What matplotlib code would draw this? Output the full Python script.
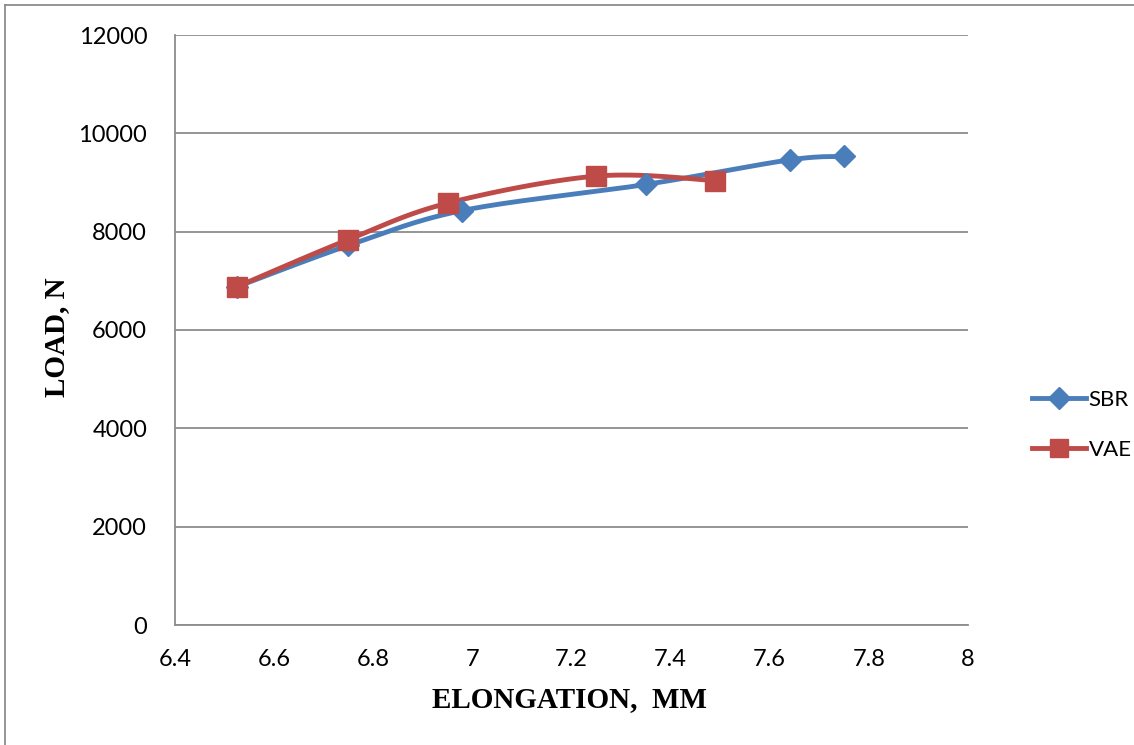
import matplotlib.pyplot as plt
import numpy as np
from matplotlib.lines import Line2D

# data
sbr_x = [6.525, 6.75, 6.98, 7.35, 7.64, 7.75]
sbr_y = [6880, 7720, 8430, 8960, 9460, 9530]
vae_x = [6.525, 6.75, 6.95, 7.25, 7.49]
vae_y = [6880, 7840, 8580, 9130, 9040]

x_ticks = [6.4, 6.6, 6.8, 7.0, 7.2, 7.4, 7.6, 7.8, 8.0]
x_tick_labels = ["6.4", "6.6", "6.8", "7", "7.2", "7.4", "7.6", "7.8", "8"]
y_ticks = [0, 2000, 4000, 6000, 8000, 10000, 12000]

BLUE = "#4A7EBB"
RED = "#BE4B48"
GRID = "#8C8C8C"


def _smooth(xs, ys, n=30):
    # Catmull-Rom curve through the points, like Excel's smoothed line
    p = np.column_stack([xs, ys]).astype(float)
    p = np.vstack([p[0], p, p[-1]])
    out = []
    t = np.linspace(0, 1, n)[:, None]
    for i in range(1, len(p) - 2):
        p0, p1, p2, p3 = p[i - 1], p[i], p[i + 1], p[i + 2]
        seg = 0.5 * ((2 * p1) + (-p0 + p2) * t
                     + (2 * p0 - 5 * p1 + 4 * p2 - p3) * t ** 2
                     + (-p0 + 3 * p1 - 3 * p2 + p3) * t ** 3)
        out.append(seg)
    out = np.vstack(out)
    return out[:, 0], out[:, 1]


def main() -> None:
    fig = plt.figure(figsize=(11.34, 7.45), dpi=100)
    ax = fig.add_axes([175 / 1134, 120 / 745, 793 / 1134, 590 / 745])

    tick_font = {"family": "Lato", "size": 17}

    for xs, ys, color, marker, ms, label in [
        (sbr_x, sbr_y, BLUE, "D", 11.5, "SBR"),
        (vae_x, vae_y, RED, "s", 14, "VAE"),
    ]:
        sx, sy = _smooth(xs, ys)
        ax.plot(sx, sy, color=color, lw=3.5, solid_capstyle="round", zorder=3)
        ax.plot(xs, ys, linestyle="none", marker=marker, markersize=ms,
                color=color, markeredgecolor=color, zorder=4)

    ax.set_xlim(6.4, 8.0)
    ax.set_ylim(0, 12000)
    ax.set_xticks(x_ticks)
    ax.set_xticklabels(x_tick_labels, fontdict=tick_font)
    ax.set_yticks(y_ticks)
    ax.set_yticklabels([str(v) for v in y_ticks], fontdict=tick_font)
    ax.tick_params(length=0)
    ax.tick_params(axis="y", pad=20)
    ax.tick_params(axis="x", pad=17)

    ax.grid(axis="y", color=GRID, lw=1.3)
    ax.set_axisbelow(True)
    for side in ["top", "right"]:
        ax.spines[side].set_visible(False)
    for side in ["left", "bottom"]:
        ax.spines[side].set_color(GRID)
        ax.spines[side].set_linewidth(1.3)

    label_font = {"family": "Liberation Serif", "weight": "bold", "size": 21}
    fig.text(570 / 1134, 1 - 700 / 745, "ELONGATION,  MM", ha="center",
             va="center", fontdict=label_font)
    fig.text(57 / 1134, 1 - 337 / 745, "LOAD, N", ha="center", va="center",
             rotation=90, fontdict=label_font)

    handles = [
        Line2D([], [], color=BLUE, lw=3.5, marker="D", markersize=11),
        Line2D([], [], color=RED, lw=3.5, marker="s", markersize=13),
    ]
    fig.legend(handles, ["SBR", "VAE"], loc="center left",
               bbox_to_anchor=(1032 / 1134, 1 - 425 / 745), frameon=False,
               prop={"family": "Lato", "size": 16}, handlelength=2.45,
               handletextpad=0.1, labelspacing=1.35, borderaxespad=0,
               borderpad=0)

    # outer chart border (top and left edges visible)
    fig.add_artist(Line2D([5 / 1134, 5 / 1134], [0, 1 - 5 / 745],
                          transform=fig.transFigure, color=GRID, lw=1.3))
    fig.add_artist(Line2D([5 / 1134, 1], [1 - 5 / 745, 1 - 5 / 745],
                          transform=fig.transFigure, color=GRID, lw=1.3))

    fig.savefig("out.png", dpi=100)


if __name__ == "__main__":
    main()
